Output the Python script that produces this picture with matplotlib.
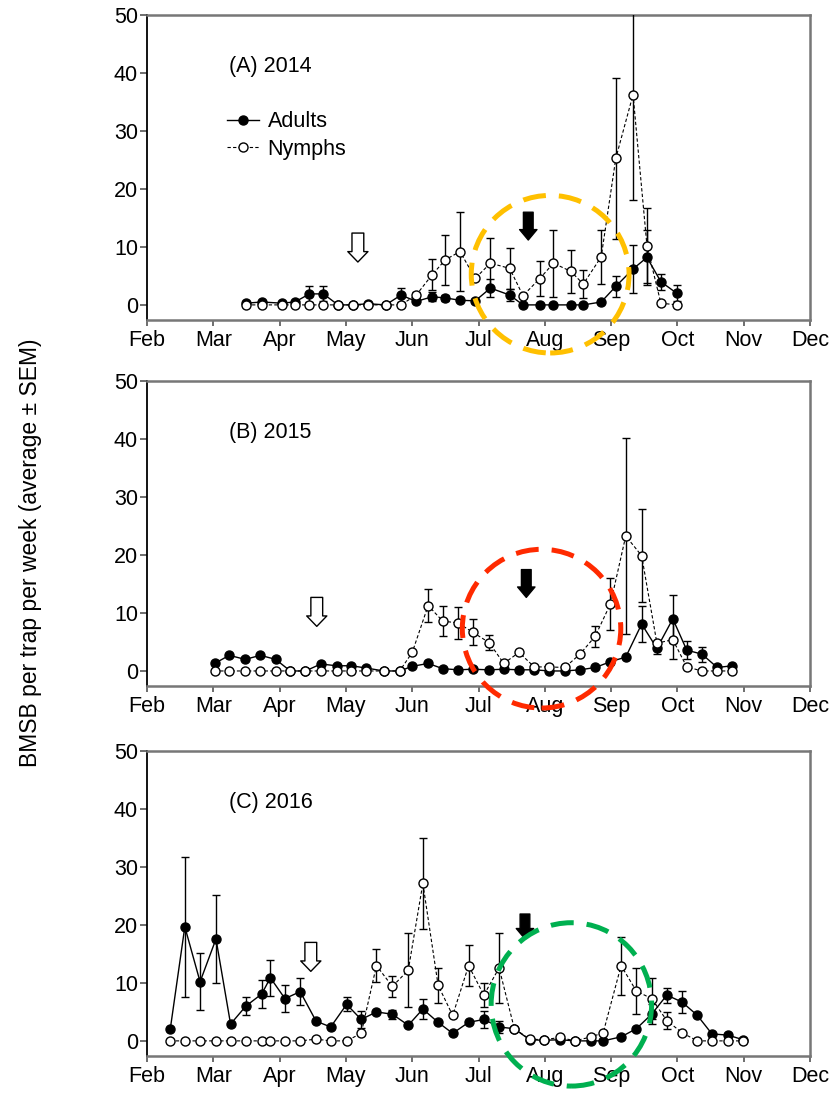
import matplotlib
matplotlib.use("Agg")
import matplotlib.pyplot as plt
from matplotlib.patches import Ellipse
from matplotlib.lines import Line2D

plt.rcParams['font.family'] = ['Liberation Sans', 'DejaVu Sans']

month_labels = ['Feb', 'Mar', 'Apr', 'May', 'Jun', 'Jul', 'Aug', 'Sep', 'Oct', 'Nov', 'Dec']
month_ticks = list(range(2, 13))

# 2014 (weeks as fractional month, Feb = 2)
weeks_2014 = [3.50, 3.73, 4.03, 4.23, 4.45, 4.66, 4.88, 5.11, 5.33, 5.60, 5.83, 6.06, 6.30,
              6.50, 6.72, 6.95, 7.18, 7.47, 7.67, 7.92, 8.13, 8.39, 8.58, 8.85, 9.07, 9.33,
              9.54, 9.75, 9.99]
adults_2014 = [0.3, 0.5, 0.3, 0.5, 1.9, 1.9, 0, 0, 0.2, 0, 1.7, 0.6, 1.4, 1.2, 0.8, 0.7,
               2.9, 1.7, 0, 0, 0, 0, 0, 0.5, 3.2, 6.2, 8.2, 4.0, 2.0]
adults_2014_sem = [0, 0, 0, 0, 1.4, 1.3, 0, 0, 0, 0, 1.2, 0, 0.8, 0.5, 0, 0.4,
                   1.5, 1.0, 0, 0, 0, 0, 0, 0, 1.8, 4.1, 4.8, 1.4, 1.4]
nymphs_2014 = [0, 0, 0, 0, 0, 0, 0, 0, 0, 0, 0, 1.7, 5.2, 7.8, 9.2, 4.6, 7.2, 6.3, 1.6,
               4.5, 7.2, 5.8, 3.6, 8.3, 25.3, 36.3, 10.2, 0.3, 0]
nymphs_2014_sem = [0, 0, 0, 0, 0, 0, 0, 0, 0, 0, 0, 0.6, 2.7, 4.3, 6.8, 0, 4.3, 3.5, 0,
                   3.0, 5.8, 3.7, 2.4, 4.7, 13.9, 18.2, 6.5, 0, 0]

# 2015
weeks_2015 = [3.02, 3.24, 3.48, 3.71, 3.94, 4.16, 4.39, 4.62, 4.86, 5.08, 5.31, 5.57, 5.81,
              6.00, 6.24, 6.46, 6.69, 6.91, 7.16, 7.38, 7.61, 7.84, 8.07, 8.30, 8.53, 8.76,
              8.99, 9.22, 9.46, 9.69, 9.93, 10.14, 10.37, 10.60, 10.83]
adults_2015 = [1.3, 2.7, 2.0, 2.7, 2.0, 0, 0, 1.2, 0.9, 0.9, 0.5, 0, 0, 0.8, 1.3, 0.4,
               0.2, 0.3, 0.2, 0.3, 0.2, 0.2, 0, 0, 0.2, 0.6, 1.6, 2.4, 8.1, 3.9, 9.0, 3.6,
               2.9, 0.6, 0.9]
adults_2015_sem = [0, 0, 0, 0, 0, 0, 0, 0, 0, 0, 0, 0, 0, 0, 0, 0, 0, 0, 0, 0, 0, 0, 0,
                   0, 0, 0, 0, 0, 3.1, 1.0, 4.2, 1.6, 1.3, 0, 0]
nymphs_2015 = [0, 0, 0, 0, 0, 0, 0, 0, 0, 0, 0, 0, 0, 3.2, 11.3, 8.6, 8.3, 6.7, 4.9, 1.3,
               3.2, 0.7, 0.7, 0.6, 2.9, 6.0, 11.6, 23.3, 19.9, 4.8, 5.4, 0.7, 0, 0, 0]
nymphs_2015_sem = [0, 0, 0, 0, 0, 0, 0, 0, 0, 0, 0, 0, 0, 0, 2.9, 2.6, 2.8, 2.3, 1.3, 0,
                   0, 0, 0, 0, 0, 1.8, 4.5, 16.9, 8.0, 0, 3.4, 0, 0, 0, 0]

# 2016
weeks_2016 = [2.35, 2.57, 2.80, 3.04, 3.26, 3.49, 3.73, 3.86, 4.08, 4.31, 4.55, 4.77, 5.01,
              5.23, 5.46, 5.70, 5.94, 6.16, 6.39, 6.61, 6.85, 7.08, 7.31, 7.54, 7.77, 7.99,
              8.23, 8.45, 8.70, 8.88, 9.15, 9.38, 9.61, 9.84, 10.07, 10.30, 10.52, 10.76, 10.99]
adults_2016 = [2.0, 19.7, 10.2, 17.6, 2.9, 6.0, 8.1, 10.9, 7.3, 8.5, 3.4, 2.4, 6.3, 3.7,
               5.0, 4.6, 2.7, 5.5, 3.2, 1.3, 3.2, 3.7, 2.4, 2.1, 0.2, 0.1, 0.2, 0, 0, 0,
               0.7, 2.1, 4.6, 7.9, 6.7, 4.4, 1.2, 1.0, 0.2]
adults_2016_sem = [0, 12.1, 4.9, 7.6, 0, 1.5, 2.4, 3.1, 2.3, 2.3, 0, 0, 1.2, 1.5, 0, 0.8,
                   0, 1.7, 0, 0, 0, 1.5, 1.1, 0, 0, 0, 0, 0, 0, 0, 0, 0, 1.7, 1.3, 1.9,
                   0, 0, 0, 0]
nymphs_2016 = [0, 0, 0, 0, 0, 0, 0, 0, 0, 0, 0.3, 0, 0, 1.3, 13.0, 9.4, 12.2, 27.2, 9.6,
               4.4, 13.0, 7.9, 12.6, 2.1, 0.3, 0.2, 0.6, 0, 0.7, 1.4, 13.0, 8.6, 7.3, 3.5,
               1.4, 0, 0, 0, 0]
nymphs_2016_sem = [0, 0, 0, 0, 0, 0, 0, 0, 0, 0, 0, 0, 0, 0, 2.9, 1.8, 6.4, 7.9, 3.0, 0,
                   3.5, 2.1, 6.1, 0, 0, 0, 0, 0, 0, 0, 5.0, 3.9, 3.5, 1.5, 0, 0, 0, 0, 0]

panels = [
    ('(A) 2014', weeks_2014, adults_2014, adults_2014_sem, nymphs_2014, nymphs_2014_sem,
     (5.18, 12.4, 7.4), (7.75, 16.0, 11.2), (8.08, 5.3, 2.38, 27.2), '#FFC000'),
    ('(B) 2015', weeks_2015, adults_2015, adults_2015_sem, nymphs_2015, nymphs_2015_sem,
     (4.56, 12.7, 7.7), (7.72, 17.5, 12.7), (7.95, 7.3, 2.39, 27.4), '#FF2A00'),
    ('(C) 2016', weeks_2016, adults_2016, adults_2016_sem, nymphs_2016, nymphs_2016_sem,
     (4.47, 17.0, 12.0), (7.70, 21.9, 17.6), (8.40, 6.3, 2.42, 28.2), '#00B050'),
]

fig = plt.figure(figsize=(8.34, 10.98), dpi=100)
bottoms = [0.7086, 0.3752, 0.0383]
fs = 15.5

for (title, wk, ad, ad_e, ny, ny_e, hollow, solid, circ, ccol), b in zip(panels, bottoms):
    ax = fig.add_axes([0.1763, b, 0.795, 0.2775])
    ax.errorbar(wk, ad, yerr=ad_e, fmt='o-', color='black', mfc='black', mec='black',
                ms=6.5, lw=1.0, elinewidth=1.0, capsize=3, capthick=1.0, zorder=3)
    ax.errorbar(wk, ny, yerr=ny_e, fmt='o--', color='black', mfc='white', mec='black',
                ms=6.5, lw=0.8, elinewidth=1.0, capsize=3, capthick=1.0, zorder=4,
                dashes=(3, 2))
    ax.set_xlim(2, 12)
    ax.set_ylim(-2.6, 50)
    ax.set_xticks(month_ticks)
    ax.set_xticklabels(month_labels)
    ax.set_yticks([0, 10, 20, 30, 40, 50])
    ax.tick_params(axis='both', direction='out', labelsize=fs, width=1.2, color='#555555')
    ax.tick_params(axis='x', length=4, pad=3)
    ax.tick_params(axis='y', length=5, pad=1.5)
    for side in ['top', 'right', 'bottom']:
        ax.spines[side].set_color('#777777')
        ax.spines[side].set_linewidth(1.8)
    ax.spines['left'].set_color('black')
    ax.spines['left'].set_linewidth(1.3)
    ax.text(0.124, 0.832, title, transform=ax.transAxes, fontsize=fs, va='center', ha='left')

    # hollow and solid arrows
    ax.annotate('', xy=(hollow[0], hollow[2]), xytext=(hollow[0], hollow[1]),
                arrowprops=dict(arrowstyle='simple,head_length=0.75,head_width=1.45,tail_width=0.85',
                                mutation_scale=10, fc='white', ec='black', lw=1.0,
                                shrinkA=0, shrinkB=0), zorder=5)
    ax.annotate('', xy=(solid[0], solid[2]), xytext=(solid[0], solid[1]),
                arrowprops=dict(arrowstyle='simple,head_length=0.75,head_width=1.25,tail_width=0.7',
                                mutation_scale=10, fc='black', ec='black', lw=1.0,
                                shrinkA=0, shrinkB=0), zorder=5)

    ring = Ellipse((circ[0], circ[1]), circ[2], circ[3], fill=False, ec=ccol, lw=3.6,
                   linestyle=(0, (4.6, 2.6)), clip_on=False, zorder=6)
    ax.add_patch(ring)

    if title.startswith('(A)'):
        handles = [Line2D([], [], color='black', marker='o', mfc='black', ms=6.5, lw=1.0),
                   Line2D([], [], color='black', marker='o', mfc='white', ms=6.5, lw=0.8,
                          dashes=(3, 2))]
        ax.legend(handles, ['Adults', 'Nymphs'], loc='upper left', bbox_to_anchor=(0.12, 0.685),
                  frameon=False, fontsize=fs, handlelength=1.5, handletextpad=0.4,
                  labelspacing=0.3, borderpad=0, borderaxespad=0)

fig.text(0.036, 0.497, 'BMSB per trap per week (average ± SEM)', rotation=90,
         fontsize=16.5, va='center', ha='center')

fig.savefig('out.png', dpi=100)
